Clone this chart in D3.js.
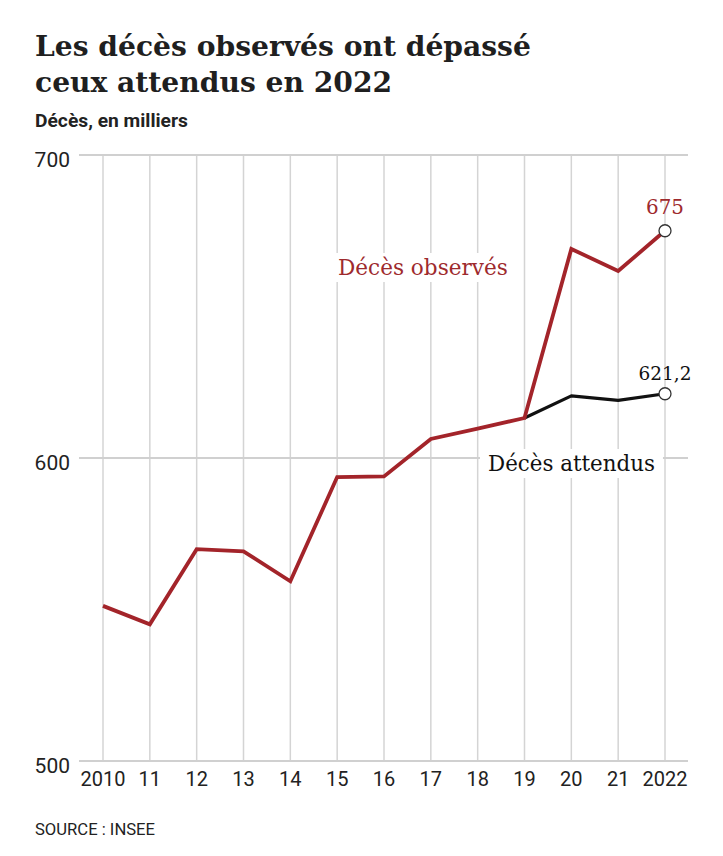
<!DOCTYPE html>
<html><head><meta charset="utf-8">
<script src="https://cdn.jsdelivr.net/npm/d3@7"></script>
<style>body{margin:0;background:#fff}svg{display:block}</style>
</head><body>
<svg id="c" width="723" height="856"></svg>
<script>
const years = [2010,2011,2012,2013,2014,2015,2016,2017,2018,2019,2020,2021,2022];
const yearLabels = ["2010","11","12","13","14","15","16","17","18","19","20","21","2022"];
const observed = [551.2,545.1,569.9,569.2,559.3,593.7,593.9,606.3,609.7,613.2,669.0,661.7,675.0];
const expectedYears = [2019,2020,2021,2022];
const expected = [613.2,620.5,619.0,621.2];
const yTicks = [500,600,700];

const svg = d3.select("#c");
const serif = "'DejaVu Serif', serif";
const sans = "Roboto, 'Liberation Sans', sans-serif";
const red = "#a3242a";

function fit(sel, w){
  const n = sel.node(); let fs = parseFloat(sel.attr("font-size"));
  const cur = n.getComputedTextLength(); sel.attr("font-size", fs*w/cur);
  return fs*w/cur;
}

const x = d3.scaleLinear().domain([2010,2022]).range([103,665]);
const y = d3.scaleLinear().domain([500,700]).range([761,155]);

// Title
const t1 = svg.append("text").attr("x",35).attr("y",56).attr("font-family",serif).attr("font-weight","bold")
  .attr("font-size",30).attr("fill","#1f1f1f").text("Les décès observés ont dépassé");
const t2 = svg.append("text").attr("x",35).attr("y",92).attr("font-family",serif).attr("font-weight","bold")
  .attr("font-size",30).attr("fill","#1f1f1f").text("ceux attendus en 2022");
const fs1 = fit(t1, 496); t2.attr("font-size", fs1);
const st = svg.append("text").attr("x",35).attr("y",127).attr("font-family",sans).attr("font-weight",700)
  .attr("font-size",17).attr("fill","#222").text("Décès, en milliers");
fit(st,153);

// grid
const g = svg.append("g");
g.selectAll("line.v").data(years).join("line").attr("class","v")
  .attr("x1",d=>x(d)).attr("x2",d=>x(d)).attr("y1",y(700)).attr("y2",y(500))
  .attr("stroke","#d4d4d4").attr("stroke-width",1.5);
g.selectAll("line.h").data(yTicks).join("line").attr("class","h")
  .attr("x1",79).attr("x2",688).attr("y1",d=>y(d)).attr("y2",d=>y(d))
  .attr("stroke","#d0d0d0").attr("stroke-width",2);

// y labels
svg.selectAll("text.yl").data(yTicks).join("text").attr("class","yl")
  .attr("x",70).attr("y",d=>y(d)+12).attr("text-anchor","end")
  .attr("font-family",sans).attr("font-size",21).attr("fill","#222").text(d=>d);

// x labels
svg.selectAll("text.xl").data(years).join("text").attr("class","xl")
  .attr("x",(d,i)=>x(d)).attr("y",786).attr("text-anchor","middle")
  .attr("font-family",sans).attr("font-size",20).attr("fill","#222")
  .text((d,i)=>yearLabels[i]);

// label backdrops
function label(txt, xx, yy, color, w){
  const t = svg.append("text").attr("x",xx).attr("y",yy).attr("font-family",serif)
    .attr("font-size",20).attr("fill",color).text(txt);
  fit(t,w);
  const b = t.node().getBBox();
  svg.insert("rect","text.lbl-anchor").attr("x",b.x-8).attr("y",b.y-2).attr("width",b.width+16).attr("height",b.height+4).attr("fill","#fff");
  t.raise();
  return t;
}

// lines
const line = d3.line().x(d=>x(d[0])).y(d=>y(d[1]));
const lbl1 = label("Décès observés",338,275,"#9e2a2d",170);
const lbl2 = label("Décès attendus",488,471,"#111",167);

svg.append("path").datum(expectedYears.map((d,i)=>[d,expected[i]])).attr("d",line)
  .attr("fill","none").attr("stroke","#111").attr("stroke-width",3.2).attr("stroke-linejoin","round");
svg.append("path").datum(years.map((d,i)=>[d,observed[i]])).attr("d",line)
  .attr("fill","none").attr("stroke",red).attr("stroke-width",3.8).attr("stroke-linejoin","miter");

// end circles
svg.append("circle").attr("cx",x(2022)).attr("cy",y(observed[12])).attr("r",6)
  .attr("fill","#fff").attr("stroke","#333").attr("stroke-width",1.3);
svg.append("circle").attr("cx",x(2022)).attr("cy",y(expected[3])).attr("r",6)
  .attr("fill","#fff").attr("stroke","#333").attr("stroke-width",1.3);

// value labels
const v1 = svg.append("text").attr("x",x(2022)).attr("y",214).attr("text-anchor","middle")
  .attr("font-family",serif).attr("font-size",20).attr("fill","#9e2a2d").text("675");
fit(v1,38);
const v2 = svg.append("text").attr("x",x(2022)).attr("y",380).attr("text-anchor","middle")
  .attr("font-family",serif).attr("font-size",20).attr("fill","#111").text("621,2");
fit(v2,53);

// source
const src = svg.append("text").attr("x",35).attr("y",835).attr("font-family",sans).attr("font-weight",400)
  .attr("font-size",16).attr("fill","#222").attr("textLength",120).attr("lengthAdjust","spacingAndGlyphs")
  .text("SOURCE : INSEE");
</script>
</body></html>
